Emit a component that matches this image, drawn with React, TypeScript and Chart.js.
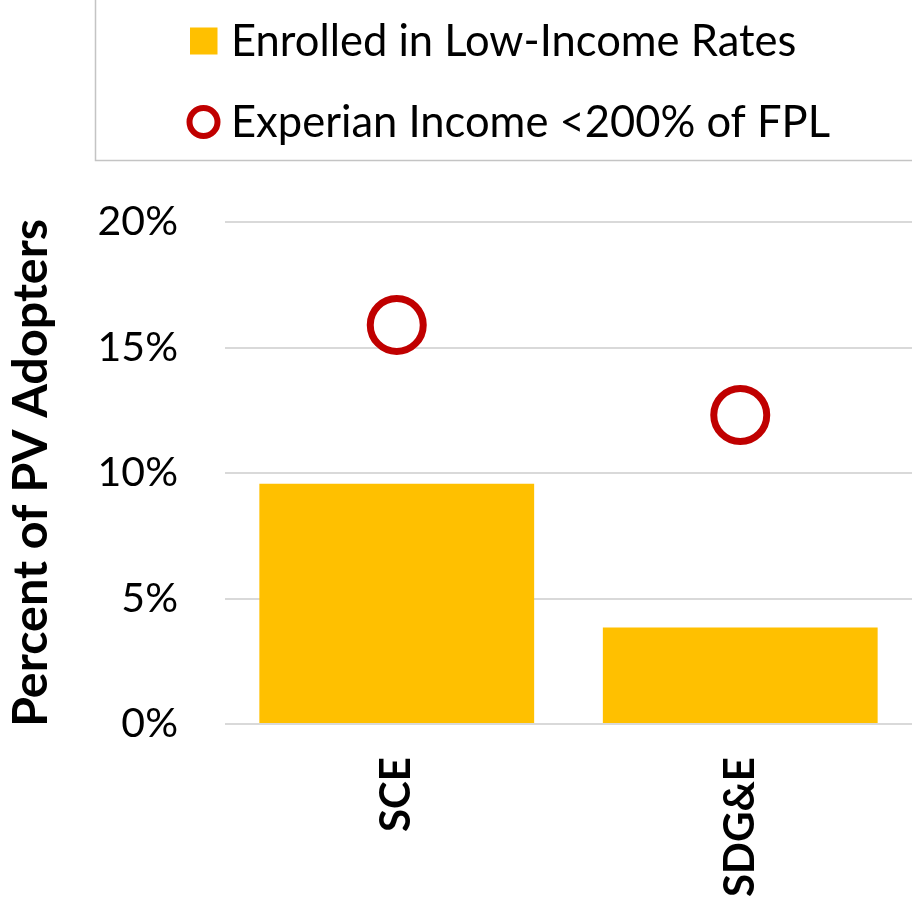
import React, { useEffect, useRef } from 'react';
import { Chart, registerables } from 'chart.js';

Chart.register(...registerables);

const categories = ['SCE', 'SDG&E'];
const enrolledLowIncome = [9.57, 3.84];
const experianBelow200FPL = [15.9, 12.31];
const seriesLabels = ['Enrolled in Low-Income Rates', 'Experian Income <200% of FPL'];
const yAxisTitle = 'Percent of PV Adopters';
const yMin = 0;
const yMax = 20;
const yStep = 5;

const FONT = 'Lato, "Open Sans", sans-serif';
const BAR_COLOR = '#FFC000';
const POINT_COLOR = '#C00000';

const boxLegend = {
  id: 'boxLegend',
  afterDraw(chart: any) {
    const ctx = chart.ctx;
    ctx.save();
    ctx.strokeStyle = '#c4c4c4';
    ctx.lineWidth = 1.5;
    ctx.strokeRect(95.5, -2, 900, 162.5);
    ctx.font = `43.5px ${FONT}`;
    ctx.textBaseline = 'middle';
    ctx.textAlign = 'left';
    chart.data.datasets.forEach((ds: any, i: number) => {
      const cy = 41 + i * 81;
      if (ds.type === 'line') {
        ctx.beginPath();
        ctx.arc(203.5, cy, 14, 0, Math.PI * 2);
        ctx.fillStyle = '#ffffff';
        ctx.fill();
        ctx.lineWidth = 6;
        ctx.strokeStyle = ds.pointBorderColor;
        ctx.stroke();
      } else {
        ctx.fillStyle = ds.backgroundColor;
        ctx.fillRect(190, cy - 13.5, 27.5, 27);
      }
      ctx.fillStyle = '#000000';
      ctx.fillText(ds.label, 231, cy + 1);
    });
    ctx.restore();
  },
};

export default function App() {
  const canvasRef = useRef<HTMLCanvasElement | null>(null);

  useEffect(() => {
    if (!canvasRef.current) return;
    const chart = new Chart(canvasRef.current, {
      type: 'bar',
      data: {
        labels: categories,
        datasets: [
          {
            type: 'bar',
            label: seriesLabels[0],
            data: enrolledLowIncome,
            backgroundColor: BAR_COLOR,
            borderWidth: 0,
            categoryPercentage: 0.8,
            barPercentage: 1,
            order: 2,
          } as any,
          {
            type: 'line',
            label: seriesLabels[1],
            data: experianBelow200FPL,
            showLine: false,
            pointRadius: 26.5,
            pointHoverRadius: 26.5,
            pointBorderWidth: 7,
            pointBorderColor: POINT_COLOR,
            pointBackgroundColor: '#ffffff',
            borderColor: POINT_COLOR,
            backgroundColor: '#ffffff',
            clip: false,
            order: 1,
          } as any,
        ],
      },
      options: {
        animation: false,
        responsive: true,
        maintainAspectRatio: false,
        layout: { autoPadding: false, padding: { top: 222, left: 0, right: 0, bottom: 0 } },
        plugins: {
          legend: { display: false },
          tooltip: { enabled: false },
          title: { display: false },
        },
        scales: {
          x: {
            grid: { display: false, drawTicks: false },
            border: { display: false },
            ticks: {
              color: '#000',
              font: { family: FONT, size: 42, weight: 'bold' },
              maxRotation: 90,
              minRotation: 90,
              padding: 33,
            },
            afterFit: (scale: any) => {
              scale.height = 175;
              scale.paddingLeft = 0;
              scale.paddingRight = 0;
            },
          },
          y: {
            min: yMin,
            max: yMax,
            grid: { color: '#d9d9d9', lineWidth: 2, drawTicks: false },
            border: { display: false },
            ticks: {
              stepSize: yStep,
              color: '#000',
              font: { family: FONT, size: 41 },
              padding: 47,
              callback: (v: any) => `${v}%`,
            },
            title: {
              display: true,
              text: yAxisTitle,
              color: '#000',
              font: { family: FONT, size: 48.5, weight: 'bold' },
              padding: { top: 2, bottom: 0 },
            },
            afterFit: (scale: any) => {
              scale.width = 225;
            },
          },
        },
      },
      plugins: [boxLegend],
    });
    return () => chart.destroy();
  }, []);

  return (
    <div style={{ position: 'fixed', left: 0, top: 0, width: 912, height: 899, background: '#fff' }}>
      <canvas ref={canvasRef} />
    </div>
  );
}
